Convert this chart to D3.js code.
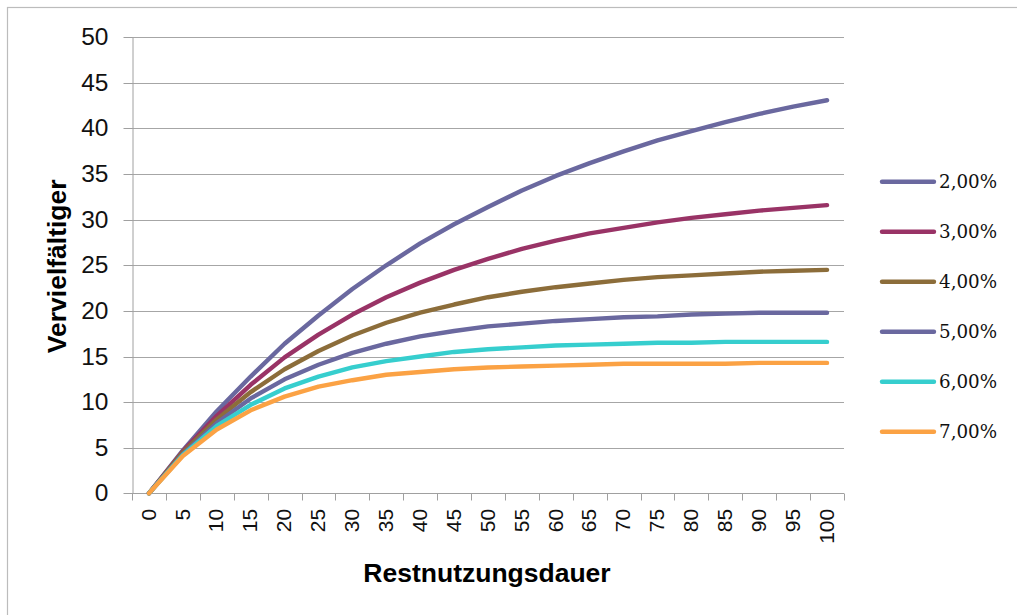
<!DOCTYPE html>
<html>
<head>
<meta charset="utf-8">
<script src="https://cdn.jsdelivr.net/npm/d3@7"></script>
<style>
  html, body { margin: 0; padding: 0; background: #fff; }
  svg { display: block; }
</style>
</head>
<body>
<svg id="chart" width="1017" height="615"></svg>
<script>
// Restnutzungsdauer (Jahre) als Kategorien
const categories = [0, 5, 10, 15, 20, 25, 30, 35, 40, 45, 50, 55, 60, 65, 70, 75, 80, 85, 90, 95, 100];

// Vervielfältiger je Zinssatz
const rate2 = [0, 4.7, 9.0, 12.8, 16.4, 19.5, 22.4, 25.0, 27.4, 29.5, 31.4, 33.2, 34.8, 36.2, 37.5, 38.7, 39.7, 40.7, 41.6, 42.4, 43.1];
const rate3 = [0, 4.6, 8.5, 11.9, 14.9, 17.4, 19.6, 21.5, 23.1, 24.5, 25.7, 26.8, 27.7, 28.5, 29.1, 29.7, 30.2, 30.6, 31.0, 31.3, 31.6];
const rate4 = [0, 4.5, 8.1, 11.1, 13.6, 15.6, 17.3, 18.7, 19.8, 20.7, 21.5, 22.1, 22.6, 23.0, 23.4, 23.7, 23.9, 24.1, 24.3, 24.4, 24.5];
const rate5 = [0, 4.3, 7.7, 10.4, 12.5, 14.1, 15.4, 16.4, 17.2, 17.8, 18.3, 18.6, 18.9, 19.1, 19.3, 19.4, 19.6, 19.7, 19.8, 19.8, 19.8];
const rate6 = [0, 4.2, 7.4, 9.7, 11.5, 12.8, 13.8, 14.5, 15.0, 15.5, 15.8, 16.0, 16.2, 16.3, 16.4, 16.5, 16.5, 16.6, 16.6, 16.6, 16.6];
const rate7 = [0, 4.1, 7.0, 9.1, 10.6, 11.7, 12.4, 13.0, 13.3, 13.6, 13.8, 13.9, 14.0, 14.1, 14.2, 14.2, 14.2, 14.2, 14.3, 14.3, 14.3];

const seriesNames = ["2,00%", "3,00%", "4,00%", "5,00%", "6,00%", "7,00%"];
const seriesValues = [rate2, rate3, rate4, rate5, rate6, rate7];
const seriesColors = ["#6a689f", "#993366", "#8c6d3a", "#6a689f", "#36cece", "#fba244"];

const yTicks = [0, 5, 10, 15, 20, 25, 30, 35, 40, 45, 50];

const svg = d3.select("#chart");

// Diagrammrahmen
svg.append("rect")
  .attr("x", 7.5).attr("y", 7.5)
  .attr("width", 1100).attr("height", 700)
  .attr("fill", "#fff")
  .attr("stroke", "#bcbcbc")
  .attr("stroke-width", 1.2);

const plot = { left: 132, right: 844, top: 37.3, bottom: 493.3 };

const x = d3.scaleBand()
  .domain(categories)
  .range([plot.left, plot.right])
  .paddingInner(0).paddingOuter(0);

const y = d3.scaleLinear()
  .domain([0, 50])
  .range([plot.bottom, plot.top]);

const cx = c => x(c) + x.bandwidth() / 2;

// Gitternetzlinien
svg.append("g")
  .selectAll("line")
  .data(yTicks.filter(v => v > 0))
  .join("line")
  .attr("x1", plot.left).attr("x2", plot.right)
  .attr("y1", d => Math.round(y(d)) + 0.5)
  .attr("y2", d => Math.round(y(d)) + 0.5)
  .attr("stroke", "#a6a6a6")
  .attr("stroke-width", 1);

// Y-Achse
const yAxis = svg.append("g")
  .attr("transform", `translate(${plot.left + 0.5},0)`)
  .call(d3.axisLeft(y).tickValues(yTicks).tickSize(9).tickPadding(15).tickSizeOuter(0))
  .call(g => g.selectAll("line").attr("stroke", "#a0a0a0"))
  .call(g => g.select(".domain").attr("stroke", "#a0a0a0"))
  .call(g => g.selectAll("text")
    .attr("font-family", "'Liberation Sans', Arial, sans-serif")
    .attr("font-size", 24.5)
    .attr("fill", "#111"));
yAxis.selectAll(".tick").attr("transform", d => `translate(0,${Math.round(y(d)) + 0.5})`);

// X-Achse
const xAxisG = svg.append("g")
  .attr("transform", `translate(0,${Math.round(plot.bottom) + 0.5})`);

xAxisG.append("line")
  .attr("x1", plot.left).attr("x2", plot.right)
  .attr("stroke", "#a0a0a0");

// Teilstriche zwischen den Kategorien
const boundaries = categories.map(c => x(c)).concat([x(categories[categories.length - 1]) + x.bandwidth()]);
xAxisG.selectAll("line.tick-mark")
  .data(boundaries)
  .join("line")
  .attr("class", "tick-mark")
  .attr("x1", d => Math.round(d) + 0.5).attr("x2", d => Math.round(d) + 0.5)
  .attr("y1", 0).attr("y2", 7)
  .attr("stroke", "#a0a0a0");

const xAxisLabels = svg.append("g")
  .attr("transform", `translate(0,${plot.bottom})`)
  .call(d3.axisBottom(x).tickSize(0).tickSizeOuter(0))
  .call(g => g.select(".domain").remove());
xAxisLabels.selectAll(".tick")
  .attr("transform", d => `translate(${cx(d)},0)`);
xAxisLabels.selectAll("text")
  .attr("transform", "rotate(-90)")
  .attr("x", -15.5)
  .attr("y", 0)
  .attr("dy", "0.32em")
  .attr("text-anchor", "end")
  .attr("font-family", "'Liberation Sans', Arial, sans-serif")
  .attr("font-size", 21)
  .attr("fill", "#111");

// Achsentitel
svg.append("text")
  .attr("x", (plot.left + plot.right) / 2 - 1)
  .attr("y", 582)
  .attr("text-anchor", "middle")
  .attr("font-family", "'Liberation Sans', Arial, sans-serif")
  .attr("font-weight", "bold")
  .attr("font-size", 26.5)
  .attr("fill", "#000")
  .text("Restnutzungsdauer");

svg.append("text")
  .attr("transform", `translate(66,${(plot.top + plot.bottom) / 2 + 1}) rotate(-90)`)
  .attr("text-anchor", "middle")
  .attr("font-family", "'Liberation Sans', Arial, sans-serif")
  .attr("font-weight", "bold")
  .attr("font-size", 26.5)
  .attr("fill", "#000")
  .text("Vervielfältiger");

// Linien
const line = d3.line()
  .x((d, i) => cx(categories[i]))
  .y(d => y(d));

svg.append("g")
  .selectAll("path")
  .data(seriesValues)
  .join("path")
  .attr("d", d => line(d))
  .attr("fill", "none")
  .attr("stroke", (d, i) => seriesColors[i])
  .attr("stroke-width", 4.4)
  .attr("stroke-linecap", "round")
  .attr("stroke-linejoin", "round");

// Legende
const legend = svg.append("g");
const legendItems = legend.selectAll("g")
  .data(seriesNames)
  .join("g")
  .attr("transform", (d, i) => `translate(0,${181.7 + i * 50})`);
legendItems.append("line")
  .attr("x1", 882).attr("x2", 934)
  .attr("stroke", (d, i) => seriesColors[i])
  .attr("stroke-width", 4.4)
  .attr("stroke-linecap", "round");
legendItems.append("text")
  .attr("x", 939)
  .attr("dy", "0.36em")
  .attr("font-family", "'DejaVu Serif', serif")
  .attr("font-size", 18.3)
  .attr("fill", "#111")
  .text(d => d);
</script>
</body>
</html>
